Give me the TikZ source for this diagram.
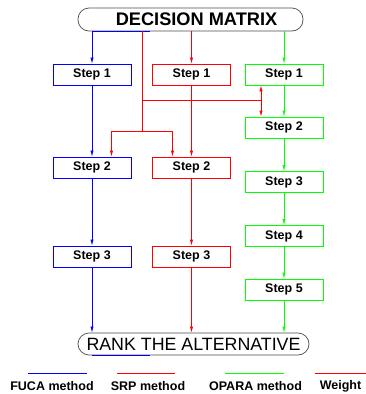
\documentclass[tikz,border=0pt]{standalone}
\usepackage{fontspec}
\setmainfont{Liberation Sans}
\usetikzlibrary{arrows.meta}
\definecolor{fb}{RGB}{0,0,255}
\definecolor{sr}{RGB}{255,0,0}
\definecolor{op}{RGB}{0,255,0}
\tikzset{
  stepbox/.style={draw,line width=0.7pt,minimum width=78pt,minimum height=21pt,inner sep=0pt,font=\fontsize{12.5}{14}\selectfont\bfseries},
  pill/.style={draw=black!70,line width=0.7pt,rounded corners=11pt,inner sep=0pt,font=\fontsize{17.8}{20}\selectfont},
  con/.style={line width=0.7pt},
  arr/.style={con,-{Latex[length=6pt,width=3.2pt]}},
  legline/.style={line width=1pt},
  leg/.style={font=\fontsize{12.5}{14}\selectfont\bfseries,inner sep=0pt}
}
\begin{document}
\begin{tikzpicture}[x=1pt,y=-1pt]
\useasboundingbox (0,0) rectangle (366,394);
% main terminals
\node[pill,minimum width=225pt,minimum height=23pt,font=\fontsize{18.2}{20}\selectfont\bfseries] (dm) at (190.5,19.5) {\hspace*{12pt}DECISION MATRIX};
\node[pill,minimum width=231pt,minimum height=22pt] (rank) at (193.5,344) {RANK THE ALTERNATIVE};
% steps
\node[stepbox,draw=fb] (b1) at (92,74.5) {Step 1};
\node[stepbox,draw=sr] (r1) at (191.5,74.5) {Step 1};
\node[stepbox,draw=op] (g1) at (284,74.5) {Step 1};
\node[stepbox,draw=op] (g2) at (284,127.5) {Step 2};
\node[stepbox,draw=fb] (b2) at (92,167.5) {Step 2};
\node[stepbox,draw=sr] (r2) at (191.5,167.5) {Step 2};
\node[stepbox,draw=op] (g3) at (284,182) {Step 3};
\node[stepbox,draw=op] (g4) at (284,236) {Step 4};
\node[stepbox,draw=fb] (b3) at (92,256.5) {Step 3};
\node[stepbox,draw=sr] (r3) at (191.5,256.5) {Step 3};
\node[stepbox,draw=op] (g5) at (284,289.5) {Step 5};
% helper coordinates
\coordinate (bx) at (150,0);
\coordinate (wx) at (142,100);
\coordinate (wr) at (261,100);
\coordinate (wj) at (142,131);
\coordinate (wl) at (111.5,131);
\coordinate (wm) at (172.5,131);
% FUCA (blue)
\draw[arr,fb] (dm.south -| bx) -- (dm.south -| b1) -- (b1.north);
\draw[arr,fb] (b1) -- (b2);
\draw[arr,fb] (b2) -- (b3);
\draw[arr,fb] (b3) -- (b3 |- rank.north);
\draw[con,fb] (rank.south -| b3) -- (rank.south -| bx);
% SRP (red)
\draw[arr,sr] (dm.south -| r1) -- (r1.north);
\draw[arr,sr] (r1) -- (r2);
\draw[arr,sr] (r2) -- (r3);
\draw[arr,sr] (r3.south) -- (r3 |- rank.north);
% OPARA (green)
\draw[arr,op] (dm.south -| g1) -- (g1.north);
\draw[arr,op] (g1) -- (g2);
\draw[arr,op] (g2) -- (g3);
\draw[arr,op] (g3) -- (g4);
\draw[arr,op] (g4) -- (g5);
\draw[arr,op] (g5) -- (g5 |- rank.north);
% Weight (red)
\draw[con,sr] (dm.south -| wx) -- (wj);
\draw[con,sr] (wx) -- (wr);
\draw[arr,sr] (wr) -- (wr |- g1.south);
\draw[arr,sr] (wr) -- (wr |- g2.north);
\draw[con,sr] (wl) -- (wm);
\draw[arr,sr] (wl) -- (wl |- b2.north);
\draw[arr,sr] (wm) -- (wm |- r2.north);
% legend
\coordinate (l1a) at (28,373);
\coordinate (l1b) at (87,373);
\coordinate (l2a) at (117,373);
\coordinate (l2b) at (175,373);
\coordinate (l3a) at (225,373);
\coordinate (l3b) at (284,373);
\coordinate (l4a) at (315,373);
\coordinate (l4b) at (366,373);
\draw[legline,fb] (l1a) -- (l1b);
\draw[legline,sr] (l2a) -- (l2b);
\draw[legline,op] (l3a) -- (l3b);
\draw[legline,sr] (l4a) -- (l4b);
\node[leg] (t1) at (52,386) {FUCA method};
\node[leg] (t2) at (148,386) {SRP method};
\node[leg] (t3) at (255.5,386) {OPARA method};
\node[leg] (t4) at (340.5,386) {Weight};
\end{tikzpicture}
\end{document}
